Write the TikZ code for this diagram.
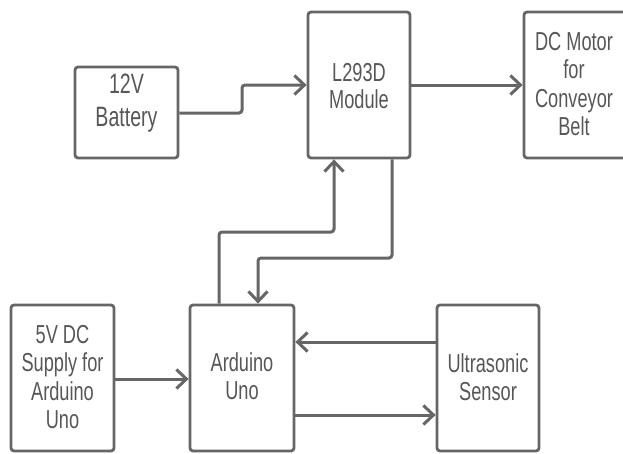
\documentclass[tikz,border=0pt]{standalone}
\usepackage{fontspec}
\setmainfont{Liberation Sans}[FakeStretch=0.70]
\usetikzlibrary{arrows.meta,calc}
\definecolor{linegray}{HTML}{666666}
\definecolor{textgray}{HTML}{575757}
\tikzset{
  box/.style={draw=linegray, line width=2.8pt, rounded corners=3pt, rectangle, inner sep=0pt, fill=white},
  txt/.style={text=textgray, align=center, inner sep=0pt, font=\fontsize{26}{28.5}\selectfont},
  conn/.style={draw=linegray, line width=3pt, rounded corners=3pt, -{Straight Barb[length=10pt,width=19pt,line width=3pt]}},
}
\begin{document}
\begin{tikzpicture}[x=1pt,y=-1pt]
\useasboundingbox (0,0) rectangle (623,453);
\clip (0,0) rectangle (623,453);
% boxes
\node[box, minimum width=103pt, minimum height=91pt] (bat) at (126.5,112.5) {};
\node[box, minimum width=102pt, minimum height=146pt] (drv) at (359,85) {};
\node[box, minimum width=104pt, minimum height=146pt] (mot) at (576,85) {};
\node[box, minimum width=103pt, minimum height=146pt] (sup) at (62.5,378) {};
\node[box, minimum width=104pt, minimum height=146pt] (ard) at (242,378) {};
\node[box, minimum width=102pt, minimum height=146pt] (ult) at (488,378) {};
% texts
\node[txt, font=\fontsize{28}{33}\selectfont] (batT) at (126.5,103) {12V\\Battery};
\node[txt, font=\fontsize{26}{27}\selectfont] (drvT) at (359,86) {L293D\\Module};
\node[txt] (motT) at (574,84) {DC Motor\\for\\Conveyor\\Belt};
\node[txt] (supT) at (62.5,377) {5V DC\\Supply for\\Arduino\\Uno};
\node[txt] (ardT) at (242,376) {Arduino\\Uno};
\node[txt] (ultT) at (488,377) {Ultrasonic\\Sensor};
% connectors
\draw[conn] (bat.east |- 0,113) -- (242,113) -- (242,85) -- (drv.west |- 0,85);
\draw[conn] (drv.east |- 0,85) -- (mot.west |- 0,85);
\draw[conn] (ard.north -| 219,0) -- (219,232) -- (334,232) -- (drv.south -| 334,0);
\draw[conn] (drv.south -| 392,0) -- (392,258) -- (258,258) -- (ard.north -| 258,0);
\draw[conn] (ult.west |- 0,342) -- (ard.east |- 0,342);
\draw[conn] (ard.east |- 0,415) -- (ult.west |- 0,415);
\draw[conn] (sup.east |- 0,379) -- (ard.west |- 0,379);
\end{tikzpicture}
\end{document}
